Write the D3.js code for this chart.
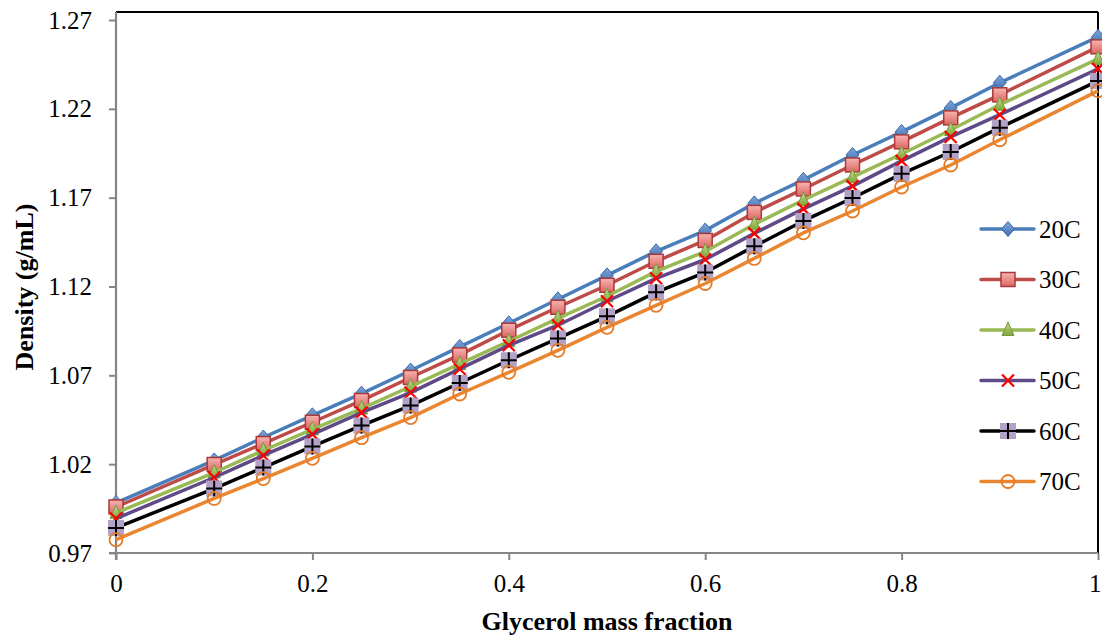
<!DOCTYPE html>
<html>
<head>
<meta charset="utf-8">
<script src="https://cdn.jsdelivr.net/npm/d3@7"></script>
<style>
  html, body { margin: 0; padding: 0; background: #fff; }
  svg { display: block; }
  svg text { font-family: "Liberation Serif", "Times New Roman", serif !important; fill: #000; }
</style>
</head>
<body>
<svg id="chart" width="1102" height="636"></svg>
<script>
// ---- data ----
const fractions = [0, 0.1, 0.15, 0.2, 0.25, 0.3, 0.35, 0.4, 0.45, 0.5, 0.55, 0.6, 0.65, 0.7, 0.75, 0.8, 0.85, 0.9, 1.0];
const seriesNames = ["20C", "30C", "40C", "50C", "60C", "70C"];
const d20 = [0.9982, 1.0221, 1.0350, 1.0475, 1.0597, 1.0727, 1.0860, 1.0993, 1.1128, 1.1263, 1.1398, 1.1515, 1.1668, 1.1800, 1.1940, 1.2070, 1.2205, 1.2347, 1.2605];
const d30 = [0.9959, 1.0198, 1.0316, 1.0436, 1.0558, 1.0688, 1.0815, 1.0954, 1.1083, 1.1207, 1.1342, 1.1459, 1.1617, 1.1749, 1.1884, 1.2014, 1.2149, 1.2279, 1.2549];
const d40 = [0.9926, 1.0153, 1.0277, 1.0396, 1.0513, 1.0637, 1.0764, 1.0892, 1.1021, 1.1145, 1.1285, 1.1397, 1.1550, 1.1687, 1.1816, 1.1946, 1.2081, 1.2223, 1.2481];
const d50 = [0.9894, 1.0125, 1.0249, 1.0368, 1.0490, 1.0603, 1.0736, 1.0869, 1.0982, 1.1117, 1.1246, 1.1352, 1.1499, 1.1637, 1.1765, 1.1907, 1.2042, 1.2167, 1.2425];
const d60 = [0.9841, 1.0063, 1.0181, 1.0300, 1.0417, 1.0530, 1.0657, 1.0785, 1.0908, 1.1032, 1.1167, 1.1279, 1.1426, 1.1569, 1.1698, 1.1834, 1.1957, 1.2094, 1.2357];
const d70 = [0.9775, 1.0007, 1.0119, 1.0233, 1.0349, 1.0462, 1.0595, 1.0717, 1.0841, 1.0970, 1.1094, 1.1217, 1.1358, 1.1502, 1.1625, 1.1760, 1.1884, 1.2026, 1.2301];
const xTicks = [0, 0.2, 0.4, 0.6, 0.8, 1];
const yTicks = [0.97, 1.02, 1.07, 1.12, 1.17, 1.22, 1.27];
const xTitle = "Glycerol mass fraction";
const yTitle = "Density (g/mL)";

const allValues = [d20, d30, d40, d50, d60, d70];

// ---- styles ----
const styles = [
  {line: "#4A7EBB", marker: "diamond"},
  {line: "#BE4B48", marker: "square"},
  {line: "#98B954", marker: "triangle"},
  {line: "#5F4A87", marker: "cross"},
  {line: "#000000", marker: "plus"},
  {line: "#EB8630", marker: "circle"}
];

const FONT = '"Liberation Serif", "Times New Roman", serif';
const svg = d3.select("#chart");
const defs = svg.append("defs");
function grad(id, c1, c2) {
  const g = defs.append("linearGradient").attr("id", id).attr("x1", 0).attr("y1", 0).attr("x2", 0).attr("y2", 1);
  g.append("stop").attr("offset", "0%").attr("stop-color", c1);
  g.append("stop").attr("offset", "100%").attr("stop-color", c2);
}
grad("gDia", "#7FA6DC", "#3F6FB0");
grad("gSq", "#F7B4B2", "#DD6663");
grad("gTri", "#C3DC8F", "#7FA53A");

const x = d3.scaleLinear().domain([0, 1]).range([116, 1098]);
const y = d3.scaleLinear().domain([0.97, 1.27]).range([553, 20]);
const plotTop = 12;

// frame top/right
svg.append("line").attr("x1", x(0)).attr("x2", x(1)).attr("y1", plotTop).attr("y2", plotTop)
  .attr("stroke", "#000").attr("stroke-width", 2);
svg.append("line").attr("x1", x(1)).attr("x2", x(1)).attr("y1", plotTop).attr("y2", y(0.97))
  .attr("stroke", "#000").attr("stroke-width", 2);

// axes
const axisColor = "#868686";
const yAxis = svg.append("g").attr("transform", `translate(${x(0)},0)`)
  .call(d3.axisLeft(y).tickValues(yTicks).tickFormat(d3.format(".2f")).tickSizeInner(7).tickSizeOuter(0).tickPadding(17));
yAxis.attr("font-family", FONT);
yAxis.select(".domain").remove();
yAxis.selectAll(".tick line").attr("stroke", axisColor).attr("stroke-width", 2);
yAxis.selectAll(".tick text").attr("font-size", 25).style("font-family", FONT);
svg.append("line").attr("x1", x(0)).attr("x2", x(0)).attr("y1", plotTop).attr("y2", y(0.97) + 7)
  .attr("stroke", axisColor).attr("stroke-width", 2.2);

const xAxis = svg.append("g").attr("transform", `translate(0,${y(0.97)})`)
  .call(d3.axisBottom(x).tickValues(xTicks).tickFormat(d => d3.format("")(+d.toFixed(1))).tickSizeInner(7).tickSizeOuter(0).tickPadding(14));
xAxis.attr("font-family", FONT);
xAxis.select(".domain").remove();
xAxis.selectAll(".tick line").attr("stroke", axisColor).attr("stroke-width", 2);
xAxis.selectAll(".tick text").attr("font-size", 25).style("font-family", FONT);
// keep the last label inside the picture
xAxis.selectAll(".tick text").filter(d => d === 1).attr("text-anchor", "end").attr("x", 3);
svg.append("line").attr("x1", x(0) - 7).attr("x2", x(1)).attr("y1", y(0.97)).attr("y2", y(0.97))
  .attr("stroke", axisColor).attr("stroke-width", 2.2);

// titles
svg.append("text").attr("x", 607).attr("y", 630).attr("text-anchor", "middle")
  .attr("font-size", 26).attr("font-weight", "bold").style("font-family", FONT).text(xTitle);
svg.append("text").attr("transform", "translate(33,287) rotate(-90)").attr("text-anchor", "middle")
  .attr("font-size", 26).attr("font-weight", "bold").style("font-family", FONT).text(yTitle);

// marker drawing
function drawMarker(g, type, cx, cy) {
  switch (type) {
    case "diamond":
      g.append("path").attr("d", `M${cx},${cy-7.5}L${cx+6.5},${cy}L${cx},${cy+7.5}L${cx-6.5},${cy}Z`)
        .attr("fill", "url(#gDia)").attr("stroke", "#3B69A5").attr("stroke-width", 1);
      break;
    case "square":
      g.append("rect").attr("x", cx-7).attr("y", cy-7).attr("width", 14).attr("height", 14)
        .attr("fill", "url(#gSq)").attr("stroke", "#A93A37").attr("stroke-width", 1.5);
      break;
    case "triangle":
      g.append("path").attr("d", `M${cx},${cy-8}L${cx+6},${cy+5.5}L${cx-6},${cy+5.5}Z`)
        .attr("fill", "url(#gTri)").attr("stroke", "#77993A").attr("stroke-width", 1);
      break;
    case "cross":
      g.append("path").attr("d", `M${cx-6},${cy-6}L${cx+6},${cy+6}M${cx-6},${cy+6}L${cx+6},${cy-6}`)
        .attr("stroke", "#FF0000").attr("stroke-width", 2.2).attr("fill", "none");
      break;
    case "plus":
      g.append("rect").attr("x", cx-8).attr("y", cy-8).attr("width", 16).attr("height", 16)
        .attr("fill", "#B3A2C7").attr("stroke", "none");
      g.append("path").attr("d", `M${cx-8},${cy}L${cx+8},${cy}M${cx},${cy-8}L${cx},${cy+8}`)
        .attr("stroke", "#000").attr("stroke-width", 2).attr("fill", "none");
      break;
    case "circle":
      g.append("circle").attr("cx", cx).attr("cy", cy).attr("r", 6.5)
        .attr("fill", "none").attr("stroke", "#E47C28").attr("stroke-width", 1.8);
      break;
  }
}

const line = d3.line().x(d => x(d[0])).y(d => y(d[1]));

allValues.forEach((vals, i) => {
  const st = styles[i];
  const pts = fractions.map((f, j) => [f, vals[j]]);
  const g = svg.append("g");
  g.append("path").datum(pts).attr("d", line).attr("fill", "none")
    .attr("stroke", st.line).attr("stroke-width", 3.5).attr("stroke-linejoin", "round");
  pts.forEach(p => drawMarker(g, st.marker, x(p[0]), y(p[1])));
});

// legend
const legY0 = 229, legStep = 50.5;
seriesNames.forEach((name, i) => {
  const st = styles[i];
  const ly = legY0 + i * legStep;
  const g = svg.append("g");
  g.append("line").attr("x1", 981).attr("x2", 1034).attr("y1", ly).attr("y2", ly)
    .attr("stroke", st.line).attr("stroke-width", 3.5).attr("stroke-linecap", "round");
  drawMarker(g, st.marker, 1008, ly);
  g.append("text").attr("x", 1039).attr("y", ly + 8.5).attr("font-size", 25).style("font-family", FONT).text(name);
});
</script>
</body>
</html>
